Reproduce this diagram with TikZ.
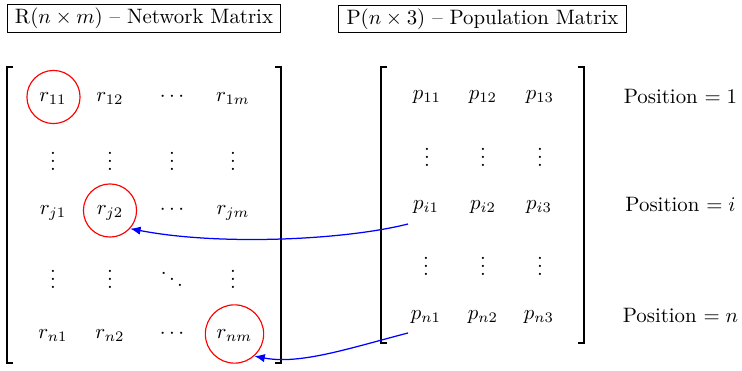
\documentclass[tikz,border=0pt]{standalone}
\usetikzlibrary{arrows.meta}
\begin{document}
\begin{tikzpicture}[x=0.48pt,y=-0.48pt,
  lbl/.style={draw, line width=0.5pt, inner xsep=3.8pt, inner ysep=1.6pt, text height=7.5pt, text depth=2.5pt},
  ent/.style={inner sep=0pt, text height=5pt, text depth=1pt},
  vd/.style={inner sep=0pt, anchor=base, text height=9.2pt, text depth=0pt},
  ring/.style={draw=red, circle, line width=0.55pt, inner sep=0pt},
  brk/.style={line width=0.9pt},
  link/.style={draw=blue, line width=0.6pt, -{Latex[length=5pt,width=4pt]}}]
\useasboundingbox (0,0) rectangle (742,371);

% titles
\node[lbl] (tR) at (144,18.5) {R($n\times m$) -- Network Matrix};
\node[lbl] (tP) at (482.5,19) {P($n\times 3$) -- Population Matrix};

% brackets of R
\draw[brk] (13,67) -- (7,67) -- (7,363) -- (13,363);
\draw[brk] (275,67) -- (281,67) -- (281,363) -- (275,363);
% brackets of P
\draw[brk] (387,67) -- (381,67) -- (381,343) -- (387,343);
\draw[brk] (578,67) -- (584,67) -- (584,343) -- (578,343);

% R entries
\node[ent] (r11) at (53,97) {$r_{11}$};
\node[ent] (r12) at (110,97) {$r_{12}$};
\node[ent] (r1d) at (172,97) {$\cdots$};
\node[ent] (r1m) at (233,97) {$r_{1m}$};
\node[vd] (v11) at (53,171) {$\vdots$};
\node[vd] (v12) at (110,171) {$\vdots$};
\node[vd] (v13) at (172,171) {$\vdots$};
\node[vd] (v14) at (233,171) {$\vdots$};
\node[ent] (rj1) at (53,210.5) {$r_{j1}$};
\node[ent] (rj2) at (110,210.5) {$r_{j2}$};
\node[ent] (rjd) at (172,210.5) {$\cdots$};
\node[ent] (rjm) at (233,210.5) {$r_{jm}$};
\node[vd] (v21) at (53,289) {$\vdots$};
\node[vd] (v22) at (110,289) {$\vdots$};
\node[vd] (v23) at (172,289) {$\ddots$};
\node[vd] (v24) at (233,289) {$\vdots$};
\node[ent] (rn1) at (53,334) {$r_{n1}$};
\node[ent] (rn2) at (110,334) {$r_{n2}$};
\node[ent] (rnd) at (172,334) {$\cdots$};
\node[ent] (rnm) at (234.5,334) {$r_{nm}$};

% circles
\node[ring, minimum size=25.5pt] (c11) at (53.5,97) {};
\node[ring, minimum size=25.5pt] (cj2) at (110,210.5) {};
\node[ring, minimum size=28pt] (cnm) at (234.5,334) {};

% P entries
\node[ent] (p11) at (427,95) {$p_{11}$};
\node[ent] (p12) at (483,95) {$p_{12}$};
\node[ent] (p13) at (540,95) {$p_{13}$};
\node[vd] (w11) at (427,167) {$\vdots$};
\node[vd] (w12) at (483,167) {$\vdots$};
\node[vd] (w13) at (540,167) {$\vdots$};
\node[ent] (pi1) at (426,205) {$p_{i1}$};
\node[ent] (pi2) at (483,205) {$p_{i2}$};
\node[ent] (pi3) at (539,205) {$p_{i3}$};
\node[vd] (w21) at (426,276) {$\vdots$};
\node[vd] (w22) at (483,276) {$\vdots$};
\node[vd] (w23) at (540,276) {$\vdots$};
\node[ent] (pn1) at (426,315) {$p_{n1}$};
\node[ent] (pn2) at (483,315) {$p_{n2}$};
\node[ent] (pn3) at (539,315) {$p_{n3}$};

% position labels
\node (pos1) at (680.5,97) {Position $=1$};
\node (posi) at (680.5,205) {Position $=i$};
\node (posn) at (680.5,316) {Position $=n$};

% links
\coordinate (si) at (408,224);
\coordinate (sn) at (408,333);
\draw[link] (si) .. controls (345,240) and (220,246) .. (cj2.-42);
\draw[link] (sn) .. controls (350,348) and (300,365) .. (cnm.-48);
\end{tikzpicture}
\end{document}
